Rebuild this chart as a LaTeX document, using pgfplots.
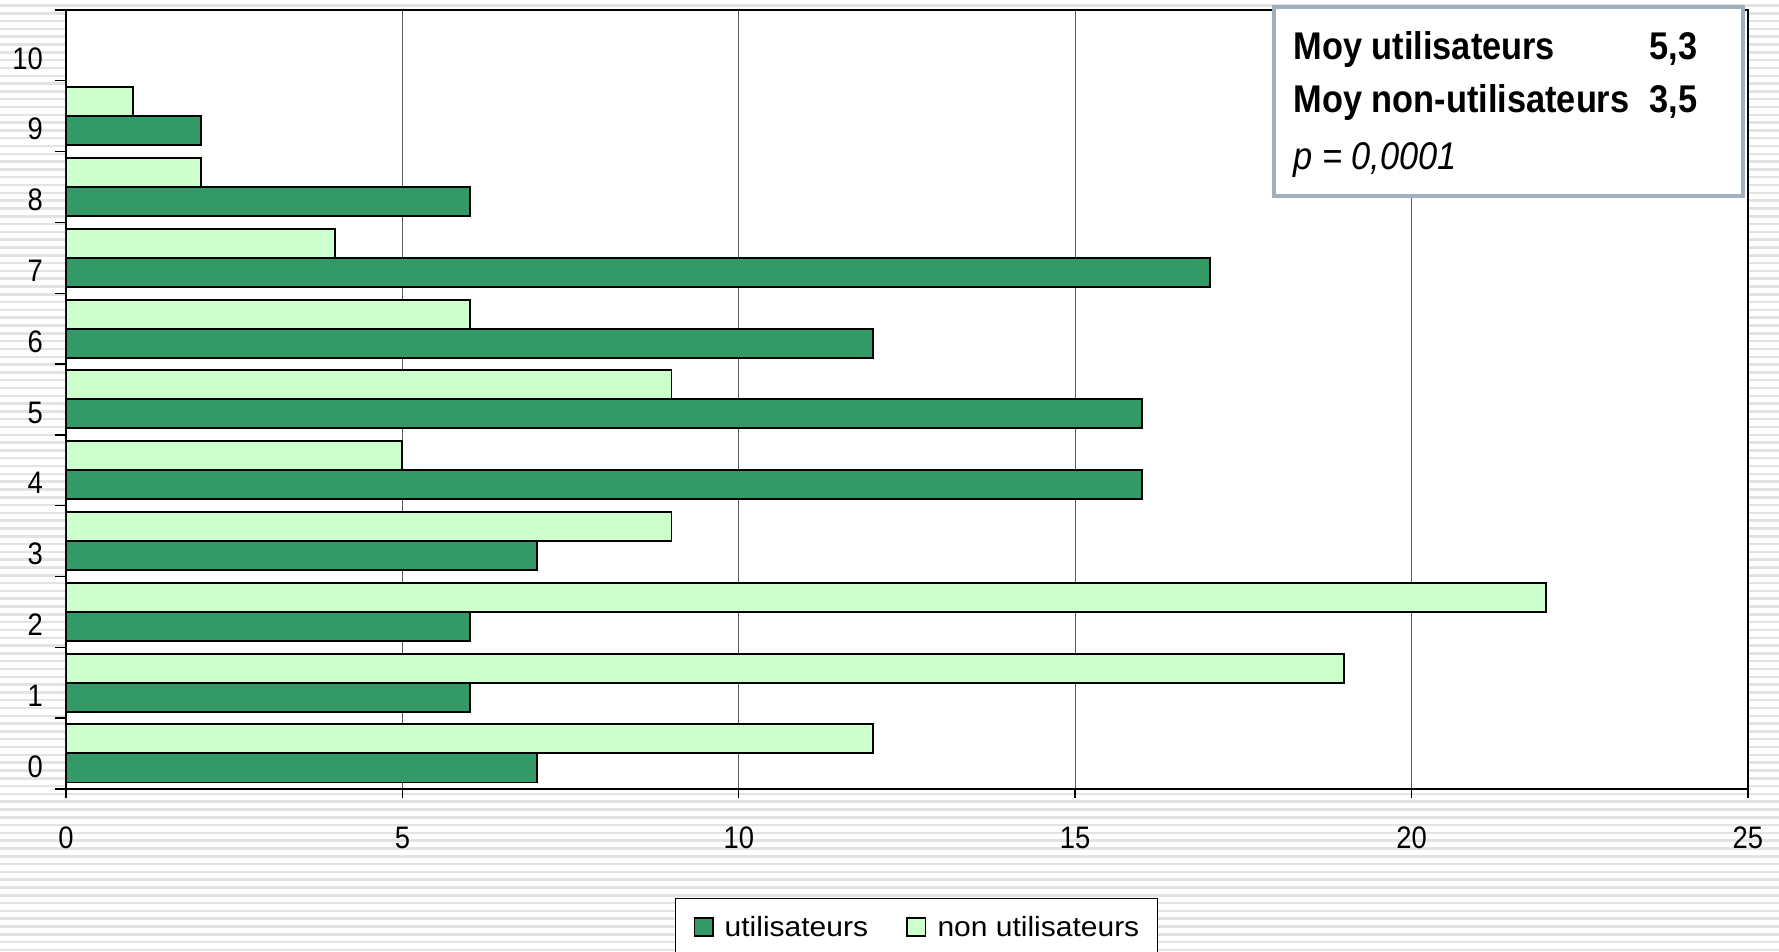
\documentclass[border=0pt]{standalone}
\usepackage{fontspec}
\setmainfont{Liberation Sans}
\newfontfamily\narrowfont[FakeStretch=0.88]{Liberation Sans}
\newfontfamily\boxfont[FakeStretch=0.89]{Liberation Sans}
\newfontfamily\legfont[FakeStretch=1.08]{Liberation Sans}
\usepackage{pgfplots}
\pgfplotsset{compat=1.18}
\definecolor{usr}{HTML}{339966}
\definecolor{nonusr}{HTML}{CCFFCC}
\definecolor{stripe}{HTML}{E3E3E3}
\definecolor{boxline}{HTML}{A2AFBF}

\pgfplotsset{sq legend/.style={legend image code/.code={%
  \draw[##1,draw=black,line width=0.6pt] (0pt,-2.6pt) rectangle (6.6pt,4.0pt);}}}

\begin{document}
\begin{tikzpicture}
% page = whole striped background
\path[use as bounding box] (-23.76pt,-58.7pt) rectangle (616.7pt,284.0pt);
\fill[white] (-23.76pt,-58.7pt) rectangle (616.7pt,284.0pt);
\foreach \k in {0,...,122} {
  \draw[stripe,line width=0.9pt] (-23.76pt,{-58pt+\k*2.81pt}) -- (616.7pt,{-58pt+\k*2.81pt});
}
\begin{axis}[
  xbar, scale only axis, width=605.5pt, height=280.4pt,
  xmin=0, xmax=25, ymin=-0.5, ymax=10.5,
  bar width=0.41,
  axis background/.style={fill=white},
  axis line style={line width=0.72pt},
  xtick={0,5,...,25}, ytick={0,...,10},
  minor ytick={-0.5,0.5,...,10.5},
  tick align=outside, tick pos=left,
  major tick length=3.2pt, minor tick length=4pt,
  tick style={black, line width=0.5pt},
  major y tick style={draw=none},
  xmajorgrids, major grid style={black!65, line width=0.45pt},
  /pgf/number format/assume math mode=true,
  tick label style={font=\narrowfont\fontsize{11.2}{13}\selectfont},
  xticklabel style={yshift=-7pt},
  yticklabel style={xshift=-1.6pt, yshift=-4.7pt},
  legend columns=2,
  legend style={at={(rel axis cs:0.362,-0.1402)}, anchor=north west,
    draw=black, line width=0.5pt, fill=white,
    font=\legfont\fontsize{10}{12}\selectfont,
    inner xsep=6.5pt, inner ysep=6.5pt,
    nodes={inner sep=0pt},
    /tikz/every odd column/.append style={column sep=4pt},
    /tikz/every even column/.append style={column sep=13.8pt}},
]
\addplot[sq legend, fill=usr, draw=black, line width=0.7pt, bar shift=-0.205]
  coordinates {(7,0) (6,1) (6,2) (7,3) (16,4) (16,5) (12,6) (17,7) (6,8) (2,9)};
\addplot[sq legend, fill=nonusr, draw=black, line width=0.7pt, bar shift=0.205]
  coordinates {(12,0) (19,1) (22,2) (9,3) (5,4) (9,5) (6,6) (4,7) (2,8) (1,9)};
\legend{utilisateurs, non utilisateurs}
\end{axis}
% statistics box
\draw[boxline, line width=1.44pt, fill=white] (434.8pt,213.5pt) rectangle (603.7pt,281.5pt);
\begin{scope}[every node/.style={inner sep=0pt}]
\node[anchor=base west, font=\boxfont\fontsize{13.9}{16}\selectfont\bfseries] at (441.7pt,262.7pt) {Moy utilisateurs};
\node[anchor=base east, font=\boxfont\fontsize{13.9}{16}\selectfont\bfseries] at (587.5pt,262.7pt) {5,3};
\node[anchor=base west, font=\boxfont\fontsize{13.9}{16}\selectfont\bfseries] at (441.7pt,243.4pt) {Moy non-utilisateurs};
\node[anchor=base east, font=\boxfont\fontsize{13.9}{16}\selectfont\bfseries] at (587.5pt,243.4pt) {3,5};
\node[anchor=base west, font=\boxfont\fontsize{13.9}{16}\selectfont\itshape] at (441.7pt,222.8pt) {p = 0,0001};
\end{scope}
\end{tikzpicture}
\end{document}
